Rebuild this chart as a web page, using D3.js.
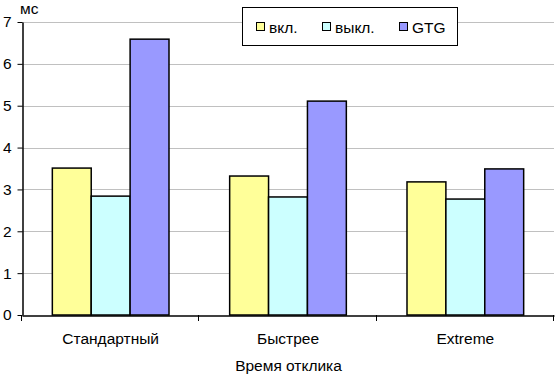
<!DOCTYPE html>
<html>
<head>
<meta charset="utf-8">
<script src="https://cdn.jsdelivr.net/npm/d3@7"></script>
<style>
  body { margin: 0; background: #fff; }
  text { font-family: "Liberation Sans", Arial, sans-serif; }
</style>
</head>
<body>
<div id="chart"></div>
<script>
// data
var categories  =   [ 'Стандартный', 'Быстрее', 'Extreme' ];
var seriesNames =   [ 'вкл.', 'выкл.', 'GTG' ];
var vkl         =   [ 3.51, 3.32, 3.18 ];
var vykl        =   [ 2.84, 2.82, 2.77 ];
var gtg         =   [ 6.59, 5.11, 3.49 ];
var yTicks      =   [ 0, 1, 2, 3, 4, 5, 6, 7 ];

var series      =   [ vkl, vykl, gtg ];
var colors      =   [ '#ffff99', '#ccffff', '#9999ff' ];

var width       =   555;
var height      =   374;
var margin      =   { top: 22, right: 1, bottom: 59, left: 22 };
var fontSize    =   15.5;

var svg = d3.select( '#chart' )
    .append( 'svg' )
    .attr( 'width', width )
    .attr( 'height', height );

var x0 = d3.scaleBand()
    .domain( categories )
    .range( [ margin.left, width - margin.right ] )
    .paddingInner( 0 )
    .paddingOuter( 0 );

var x1 = d3.scaleBand()
    .domain( d3.range( series.length ) )
    .range( [ 0, x0.bandwidth() ] )
    .paddingOuter( 0.78 );

var y = d3.scaleLinear()
    .domain( [ 0, 7 ] )
    .range( [ height - margin.bottom, margin.top ] );

// gridlines
svg.append( 'g' )
    .selectAll( 'line' )
    .data( yTicks.slice( 1 ) )
    .enter()
    .append( 'line' )
    .attr( 'x1', margin.left )
    .attr( 'x2', width - margin.right )
    .attr( 'y1', function( d ){ return Math.round( y( d ) ) + 0.5; } )
    .attr( 'y2', function( d ){ return Math.round( y( d ) ) + 0.5; } )
    .attr( 'stroke', '#c0c0c0' );

// bars
var groups = svg.append( 'g' )
    .selectAll( 'g' )
    .data( categories )
    .enter()
    .append( 'g' )
    .attr( 'transform', function( d ){ return 'translate(' + x0( d ) + ',0)'; } );

groups.selectAll( 'rect' )
    .data( function( d, i ){
        return series.map( function( s, j ){ return { s: j, v: s[ i ] }; } );
    })
    .enter()
    .append( 'rect' )
    .attr( 'x', function( d ){ return x1( d.s ); } )
    .attr( 'y', function( d ){ return y( d.v ); } )
    .attr( 'width', x1.bandwidth() )
    .attr( 'height', function( d ){ return y( 0 ) - y( d.v ); } )
    .attr( 'fill', function( d ){ return colors[ d.s ]; } )
    .attr( 'stroke', '#000' )
    .attr( 'stroke-width', 1.5 );

// y axis
var yAxis = svg.append( 'g' )
    .attr( 'transform', 'translate(' + ( margin.left + 0.5 ) + ',0)' )
    .call( d3.axisLeft( y ).tickValues( yTicks ).tickFormat( d3.format( 'd' ) )
        .tickSize( 5 ).tickPadding( 6 ).tickSizeOuter( 0 ) );
yAxis.select( '.domain' ).attr( 'stroke', '#000' ).attr( 'stroke-width', 1.5 );
yAxis.selectAll( 'line' ).attr( 'stroke', '#000' );
yAxis.selectAll( 'text' )
    .attr( 'font-size', fontSize )
    .attr( 'font-family', '"Liberation Sans", Arial, sans-serif' )
    .attr( 'fill', '#000' );

// x axis
var xAxis = svg.append( 'g' )
    .attr( 'transform', 'translate(0,' + ( y( 0 ) + 0.5 ) + ')' )
    .call( d3.axisBottom( x0 ).tickSize( 0 ).tickPadding( 17 ) );
xAxis.select( '.domain' ).attr( 'stroke', '#000' ).attr( 'stroke-width', 1.5 );
xAxis.selectAll( 'text' )
    .attr( 'font-size', fontSize )
    .attr( 'font-family', '"Liberation Sans", Arial, sans-serif' )
    .attr( 'fill', '#000' );

// category separator ticks
var sepPos = categories.map( function( d ){ return x0( d ); } ).concat( [ width - margin.right ] );
svg.append( 'g' )
    .selectAll( 'line' )
    .data( sepPos )
    .enter()
    .append( 'line' )
    .attr( 'x1', function( d ){ return Math.round( d ) - 0.5; } )
    .attr( 'x2', function( d ){ return Math.round( d ) - 0.5; } )
    .attr( 'y1', y( 0 ) )
    .attr( 'y2', y( 0 ) + 6 )
    .attr( 'stroke', '#000' );

// axis titles
svg.append( 'text' )
    .text( 'Время отклика' )
    .attr( 'x', ( margin.left + width ) / 2 )
    .attr( 'y', 371 )
    .attr( 'text-anchor', 'middle' )
    .attr( 'font-size', fontSize );

svg.append( 'text' )
    .text( 'мс' )
    .attr( 'x', 20 )
    .attr( 'y', 14 )
    .attr( 'font-size', fontSize );

// legend
var legend = svg.append( 'g' );
legend.append( 'rect' )
    .attr( 'x', 242.5 )
    .attr( 'y', 7.5 )
    .attr( 'width', 215 )
    .attr( 'height', 38 )
    .attr( 'fill', '#fff' )
    .attr( 'stroke', '#000' );

var legendX = [ 256, 322, 399 ];
var items = legend.selectAll( 'g.item' )
    .data( seriesNames )
    .enter()
    .append( 'g' )
    .attr( 'class', 'item' )
    .attr( 'transform', function( d, i ){ return 'translate(' + legendX[ i ] + ',27)'; } );

items.append( 'rect' )
    .attr( 'x', 0.5 )
    .attr( 'y', -4.5 )
    .attr( 'width', 8 )
    .attr( 'height', 8 )
    .attr( 'fill', function( d, i ){ return colors[ i ]; } )
    .attr( 'stroke', '#000' );

items.append( 'text' )
    .text( function( d ){ return d; } )
    .attr( 'x', 13 )
    .attr( 'y', 5.5 )
    .attr( 'font-size', fontSize );
</script>
</body>
</html>
